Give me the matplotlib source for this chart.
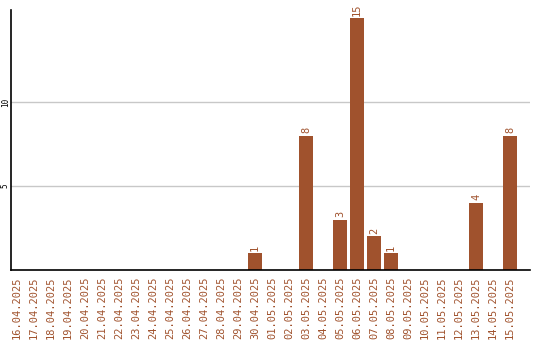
import matplotlib
matplotlib.use('Agg')
import matplotlib.pyplot as plt
import numpy as np

dates = ['16.04.2025', '17.04.2025', '18.04.2025', '19.04.2025', '20.04.2025',
         '21.04.2025', '22.04.2025', '23.04.2025', '24.04.2025', '25.04.2025',
         '26.04.2025', '27.04.2025', '28.04.2025', '29.04.2025', '30.04.2025',
         '01.05.2025', '02.05.2025', '03.05.2025', '04.05.2025', '05.05.2025',
         '06.05.2025', '07.05.2025', '08.05.2025', '09.05.2025', '10.05.2025',
         '11.05.2025', '12.05.2025', '13.05.2025', '14.05.2025', '15.05.2025']
counts = [0, 0, 0, 0, 0, 0, 0, 0, 0, 0, 0, 0, 0, 0, 1,
          0, 0, 8, 0, 3, 15, 2, 1, 0, 0, 0, 0, 4, 0, 8]
y_ticks = [5, 10]

color = '#A0522D'
plt.rcParams['font.family'] = 'DejaVu Sans Mono'

fig = plt.figure(figsize=(5.4, 3.4), dpi=100)
ax = fig.add_axes([0.0204, 0.206, 0.9611, 0.7646])

x = np.arange(len(dates))
ax.bar(x, counts, width=0.82, color=color, zorder=2)
for xi, v in zip(x, counts):
    if v > 0:
        ax.text(xi, v + 0.15, str(v), rotation=90, ha='center', va='bottom',
                color=color, fontsize=7.5)

ax.set_xlim(-0.35, 30.18)
ax.set_ylim(0, 15.5)
ax.set_yticks(y_ticks)
ax.set_yticklabels([str(t) for t in y_ticks], rotation=90, va='center', fontsize=5.5)
ax.set_xticks(x)
ax.set_xticklabels(dates, rotation=90, fontsize=7.5, color=color)
ax.tick_params(axis='x', length=0, pad=5)
ax.tick_params(axis='y', length=0, pad=1)
ax.yaxis.grid(True, color='#c8c8c8', linewidth=1, zorder=0)
ax.set_axisbelow(True)
for s in ['top', 'right']:
    ax.spines[s].set_visible(False)
ax.spines['left'].set_linewidth(1.2)
ax.spines['bottom'].set_linewidth(1.2)

fig.savefig('out.png', dpi=100)
